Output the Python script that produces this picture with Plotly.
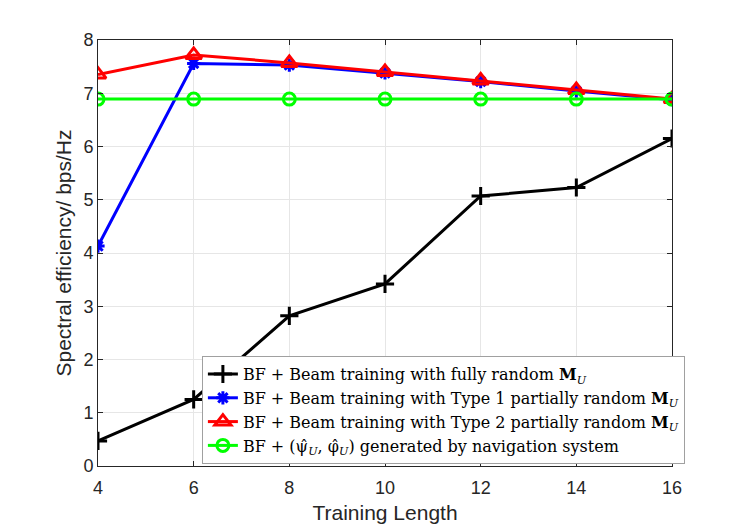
import plotly.graph_objects as go

training_length = [4, 6, 8, 10, 12, 14, 16]
fully_random = [0.47, 1.25, 2.82, 3.42, 5.07, 5.23, 6.15]
type1_partial = [4.13, 7.56, 7.53, 7.38, 7.22, 7.04, 6.88]
type2_partial = [7.35, 7.72, 7.57, 7.40, 7.24, 7.06, 6.89]
navigation = [6.89, 6.89, 6.89, 6.89, 6.89, 6.89, 6.89]

names = [
    "BF + Beam training with fully random <b>M</b><sub><i>U</i></sub>",
    "BF + Beam training with Type 1 partially random <b>M</b><sub><i>U</i></sub>",
    "BF + Beam training with Type 2 partially random <b>M</b><sub><i>U</i></sub>",
    "BF + (\u03c8\u0302<sub><i>U</i></sub>, \u03c6\u0302<sub><i>U</i></sub>) generated by navigation system",
]

fig = go.Figure()
fig.add_trace(go.Scatter(
    x=training_length, y=fully_random, mode="lines+markers", name=names[0],
    line=dict(color="black", width=3),
    marker=dict(symbol="cross-thin", size=13, line=dict(color="black", width=3)),
))
fig.add_trace(go.Scatter(
    x=training_length, y=type1_partial, mode="lines+markers", name=names[1],
    line=dict(color="blue", width=3),
    marker=dict(symbol="asterisk-open", size=11, line=dict(color="blue", width=3)),
))
fig.add_trace(go.Scatter(
    x=training_length, y=type2_partial, mode="lines+markers", name=names[2],
    line=dict(color="red", width=3),
    marker=dict(symbol="triangle-up-open", size=14, line=dict(color="red", width=3)),
))
fig.add_trace(go.Scatter(
    x=training_length, y=navigation, mode="lines+markers", name=names[3],
    line=dict(color="#00ff00", width=3),
    marker=dict(symbol="circle-open", size=12, line=dict(color="#00ff00", width=3)),
))

axis_common = dict(
    showline=True, linecolor="#262626", linewidth=1, mirror="ticks",
    ticks="inside", ticklen=5, tickcolor="#262626",
    showgrid=True, gridcolor="#e6e6e6", gridwidth=1, zeroline=False,
    tickfont=dict(family="Liberation Sans, Arial", size=18, color="#262626"),
)
title_font = dict(family="Liberation Sans, Arial", size=21, color="#262626")

fig.update_layout(
    width=747, height=527,
    margin=dict(l=90, r=83, t=32, b=69),
    paper_bgcolor="white", plot_bgcolor="white",
    xaxis=dict(range=[4, 16], dtick=2, ticklabelstandoff=5,
               title=dict(text="Training Length", standoff=8, font=title_font),
               **axis_common),
    yaxis=dict(range=[0, 8], dtick=1,
               title=dict(text="Spectral efficiency/ bps/Hz", standoff=6, font=title_font),
               **axis_common),
    legend=dict(
        x=0.181, y=0.258, xanchor="left", yanchor="top",
        bgcolor="white", bordercolor="#a0a0a0", borderwidth=1,
        font=dict(family="DejaVu Serif", size=16, color="black"),
        tracegroupgap=0, itemwidth=30,
    ),
    showlegend=True,
)

fig.write_html("out.html")
